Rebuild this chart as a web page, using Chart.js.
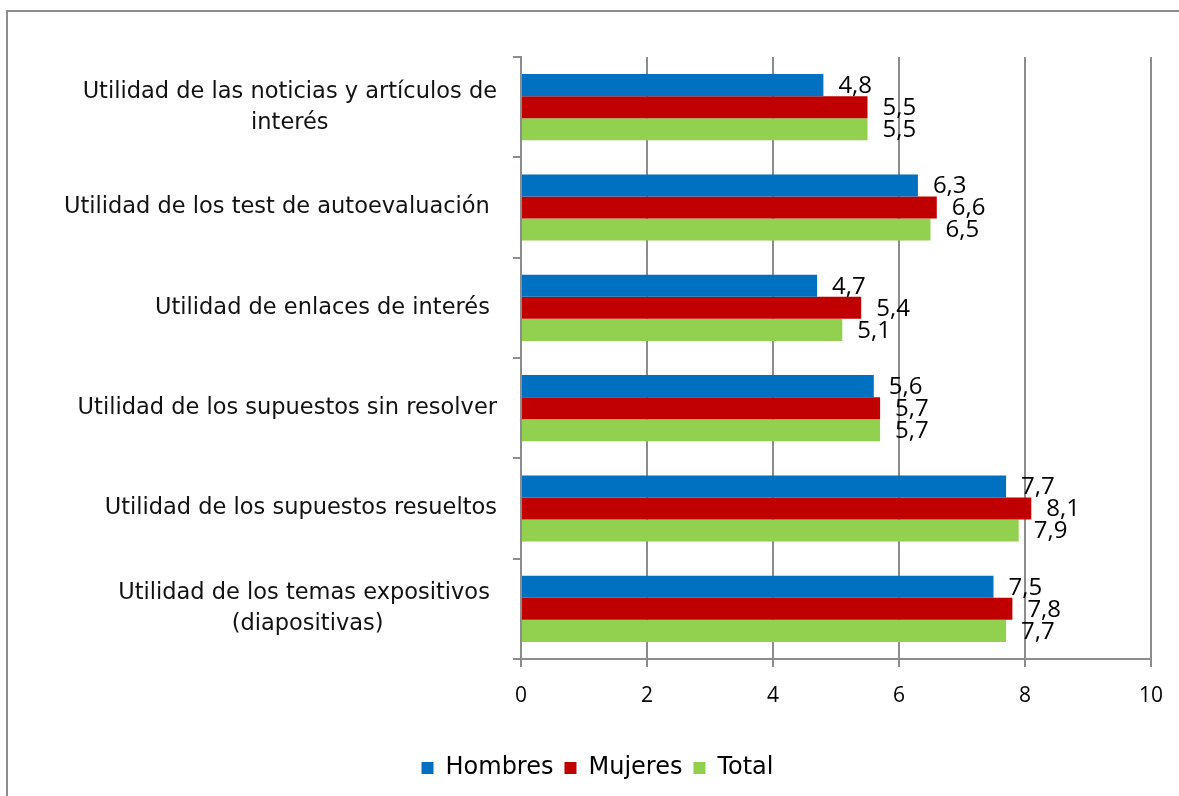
<!DOCTYPE html>
<html>
<head>
<meta charset="utf-8">
<script src="https://cdn.jsdelivr.net/npm/chart.js@4"></script>
<style>
  body { margin: 0; background: #fff; }
  #wrap { position: relative; width: 1179px; height: 796px; }
  #frame { position: absolute; left: 6px; top: 10px; width: 1200px; height: 800px;
           border-left: 2px solid #8c8c8c; border-top: 2px solid #8c8c8c; pointer-events: none; }
</style>
</head>
<body>
<div id="wrap">
  <canvas id="chart" width="1179" height="796"></canvas>
  <div id="frame"></div>
</div>
<script>
var categories = [
    ['Utilidad de las noticias y artículos de', 'interés'],
    ['Utilidad de los test de autoevaluación '],
    ['Utilidad de enlaces de interés '],
    ['Utilidad de los supuestos sin resolver'],
    ['Utilidad de los supuestos resueltos'],
    ['Utilidad de los temas expositivos ', '(diapositivas)']
];
var hombres = [4.8, 6.3, 4.7, 5.6, 7.7, 7.5];
var mujeres = [5.5, 6.6, 5.4, 5.7, 8.1, 7.8];
var total = [5.5, 6.5, 5.1, 5.7, 7.9, 7.7];
var xTicks = [0, 2, 4, 6, 8, 10];

var gridColor = '#8c8c8c';
var catFont = '22.5px "DejaVu Sans"';

// category labels: block right-aligned, lines centred inside the block
var catLabels = {
    id: 'catLabels',
    afterDraw: function(chart) {
        var ctx = chart.ctx, y = chart.scales.y;
        var right = chart.chartArea.left - 24;
        ctx.save();
        ctx.font = catFont;
        ctx.fillStyle = '#111';
        ctx.textAlign = 'center';
        ctx.textBaseline = 'middle';
        categories.forEach(function(lines, i) {
            var w = Math.max.apply(null, lines.map(function(l) { return ctx.measureText(l).width; }));
            var cx = right - w / 2;
            var cy = y.getPixelForValue(i);
            lines.forEach(function(l, k) {
                ctx.fillText(l, cx, cy + (k - (lines.length - 1) / 2) * 31);
            });
        });
        ctx.restore();
    }
};

// value labels after each bar
var valueLabels = {
    id: 'valueLabels',
    afterDatasetsDraw: function(chart) {
        var ctx = chart.ctx;
        ctx.save();
        ctx.font = '24px "Open Sans"';
        ctx.fillStyle = '#000';
        ctx.textAlign = 'left';
        ctx.textBaseline = 'middle';
        chart.data.datasets.forEach(function(ds, d) {
            chart.getDatasetMeta(d).data.forEach(function(bar, i) {
                ctx.fillText(ds.data[i].toFixed(1).replace('.', ','), bar.x + 15, bar.y + 1);
            });
        });
        ctx.restore();
    }
};

new Chart(document.getElementById('chart'), {
    type: 'bar',
    data: {
        labels: categories,
        datasets: [
            { label: 'Hombres', data: hombres, backgroundColor: '#0070C0' },
            { label: 'Mujeres', data: mujeres, backgroundColor: '#C00000' },
            { label: 'Total', data: total, backgroundColor: '#92D050' }
        ]
    },
    options: {
        indexAxis: 'y',
        responsive: false,
        animation: false,
        categoryPercentage: 0.66,
        barPercentage: 1,
        layout: { padding: { left: 44, right: 28, top: 57, bottom: 6 } },
        plugins: {
            legend: {
                position: 'bottom',
                labels: {
                    boxWidth: 12,
                    boxHeight: 12,
                    padding: 11,
                    color: '#000',
                    font: { family: 'DejaVu Sans', size: 24 }
                }
            },
            tooltip: { enabled: false }
        },
        scales: {
            x: {
                min: 0,
                max: 10,
                afterBuildTicks: function(scale) {
                    scale.ticks = xTicks.map(function(v) { return { value: v }; });
                },
                afterFit: function(scale) { scale.height = 86; },
                grid: { color: gridColor, lineWidth: 2, tickLength: 8 },
                border: { color: gridColor, width: 2 },
                ticks: {
                    color: '#000',
                    padding: 16,
                    font: { family: 'Open Sans', size: 21 }
                }
            },
            y: {
                afterFit: function(scale) { scale.width = 477; },
                grid: { offset: true, drawOnChartArea: false, color: gridColor, lineWidth: 2, tickLength: 8 },
                border: { color: gridColor, width: 2 },
                ticks: { display: false }
            }
        }
    },
    plugins: [catLabels, valueLabels]
});
</script>
</body>
</html>
